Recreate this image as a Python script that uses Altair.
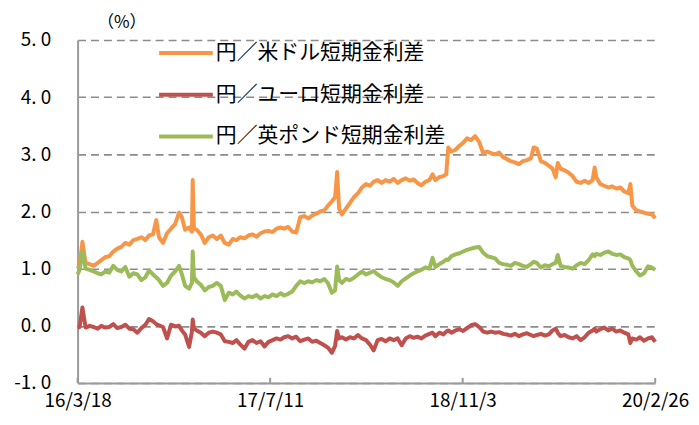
import altair as alt
import pandas as pd

# day offsets from 2016-03-18
days = [
    0, 5, 12, 20, 30, 40, 50, 59, 69, 79,
    89, 99, 109, 119, 129, 139, 149, 159, 169, 178,
    188, 196, 203, 213, 223, 233, 243, 253, 260, 268,
    278, 285, 287, 290, 297, 307, 317, 327, 337, 347,
    357, 367, 377, 387, 396, 406, 416, 426, 436, 446,
    456, 466, 476, 486, 496, 506, 515, 525, 535, 545,
    555, 565, 575, 585, 595, 605, 615, 624, 634, 642,
    647, 652, 659, 669, 679, 689, 699, 709, 719, 729,
    738, 748, 758, 768, 778, 788, 798, 808, 818, 828,
    838, 847, 857, 867, 877, 885, 892, 902, 912, 919,
    924, 932, 942, 952, 961, 971, 981, 991, 1001, 1011,
    1021, 1031, 1041, 1051, 1061, 1070, 1080, 1090, 1100, 1110,
    1120, 1130, 1137, 1145, 1155, 1165, 1175, 1184, 1192, 1197,
    1204, 1214, 1224, 1234, 1244, 1254, 1264, 1274, 1284, 1289,
    1293, 1303, 1313, 1323, 1333, 1343, 1353, 1363, 1373, 1378,
    1383, 1393, 1402, 1412, 1422, 1432, 1440,
]

usd = [
    1.00, 1.05, 1.47, 1.10, 1.08, 1.05, 1.10, 1.15, 1.20, 1.22,
    1.30, 1.35, 1.38, 1.45, 1.42, 1.50, 1.52, 1.55, 1.50, 1.58,
    1.60, 1.85, 1.55, 1.45, 1.62, 1.70, 1.78, 1.98, 1.90, 1.68,
    1.72, 1.65, 2.55, 1.70, 1.68, 1.60, 1.45, 1.55, 1.58, 1.52,
    1.58, 1.45, 1.42, 1.52, 1.50, 1.55, 1.53, 1.58, 1.60, 1.56,
    1.62, 1.65, 1.66, 1.64, 1.70, 1.72, 1.70, 1.73, 1.65, 1.63,
    1.90, 1.92, 1.88, 1.93, 1.96, 2.00, 2.02, 2.10, 2.18, 2.25,
    2.69, 2.05, 1.95, 2.05, 2.15, 2.25, 2.32, 2.42, 2.48, 2.45,
    2.52, 2.55, 2.50, 2.55, 2.52, 2.57, 2.50, 2.55, 2.58, 2.54,
    2.56, 2.50, 2.46, 2.52, 2.55, 2.65, 2.55, 2.60, 2.62, 2.65,
    3.12, 3.05, 3.08, 3.15, 3.20, 3.28, 3.25, 3.32, 3.22, 3.02,
    3.05, 3.02, 3.00, 3.03, 2.95, 2.92, 2.88, 2.86, 2.83, 2.88,
    2.90, 2.93, 3.12, 3.10, 2.88, 2.85, 2.80, 2.75, 2.60, 2.85,
    2.75, 2.72, 2.68, 2.62, 2.52, 2.50, 2.54, 2.50, 2.55, 2.77,
    2.60, 2.48, 2.45, 2.42, 2.44, 2.40, 2.42, 2.35, 2.32, 2.48,
    2.10, 2.02, 2.00, 1.98, 1.96, 1.95, 1.88,
]

eur = [
    -0.03, -0.02, 0.32, -0.03, 0.00, -0.02, -0.05, 0.00, -0.03, -0.02,
    0.03, -0.04, -0.02, 0.02, -0.05, -0.06, -0.12, -0.04, 0.02, 0.12,
    0.08, 0.03, 0.01, -0.02, -0.22, 0.02, -0.01, 0.00, -0.08, -0.15,
    -0.37, -0.10, 0.11, -0.05, -0.08, -0.12, -0.18, -0.12, -0.10, -0.12,
    -0.15, -0.27, -0.28, -0.30, -0.25, -0.33, -0.40, -0.28, -0.25, -0.30,
    -0.27, -0.36, -0.28, -0.25, -0.22, -0.24, -0.20, -0.18, -0.22, -0.19,
    -0.27, -0.24, -0.22, -0.28, -0.26, -0.30, -0.34, -0.38, -0.47, -0.35,
    -0.09, -0.22, -0.20, -0.24, -0.20, -0.22, -0.16, -0.22, -0.25, -0.33,
    -0.43, -0.25, -0.23, -0.27, -0.22, -0.25, -0.22, -0.34, -0.22, -0.18,
    -0.21, -0.19, -0.22, -0.17, -0.14, -0.12, -0.18, -0.12, -0.15, -0.10,
    -0.08, -0.12, -0.08, -0.06, -0.09, -0.04, 0.01, 0.03, -0.02, -0.10,
    -0.12, -0.10, -0.12, -0.11, -0.14, -0.15, -0.17, -0.14, -0.18, -0.15,
    -0.13, -0.16, -0.18, -0.16, -0.14, -0.17, -0.15, -0.08, -0.05, -0.12,
    -0.18, -0.16, -0.20, -0.22, -0.18, -0.25, -0.20, -0.12, -0.08, -0.05,
    -0.10, -0.06, -0.03, -0.08, -0.05, -0.10, -0.08, -0.12, -0.15, -0.30,
    -0.22, -0.24, -0.20, -0.26, -0.22, -0.20, -0.28,
]

gbp = [
    0.90, 0.98, 1.30, 1.00, 0.98, 0.95, 0.92, 0.90, 0.95, 0.93,
    1.05, 0.98, 0.95, 1.03, 0.86, 0.92, 0.90, 0.80, 0.85, 0.97,
    0.90, 0.85, 0.80, 0.70, 0.75, 0.88, 0.95, 1.05, 0.90, 0.70,
    0.65, 0.75, 1.30, 0.85, 0.78, 0.72, 0.62, 0.68, 0.70, 0.75,
    0.70, 0.45, 0.58, 0.55, 0.60, 0.53, 0.48, 0.52, 0.50, 0.54,
    0.48, 0.52, 0.50, 0.55, 0.52, 0.57, 0.53, 0.56, 0.60, 0.70,
    0.78, 0.75, 0.78, 0.76, 0.80, 0.78, 0.82, 0.75, 0.58, 0.62,
    1.04, 0.80, 0.75, 0.82, 0.80, 0.84, 0.90, 0.95, 0.90, 0.93,
    0.96, 0.90, 0.85, 0.82, 0.80, 0.76, 0.70, 0.78, 0.83, 0.88,
    0.92, 0.95, 0.98, 1.02, 1.00, 1.19, 1.03, 1.08, 1.12, 1.16,
    1.15, 1.22, 1.25, 1.27, 1.30, 1.33, 1.35, 1.37, 1.38, 1.28,
    1.22, 1.20, 1.18, 1.10, 1.08, 1.07, 1.05, 1.10, 1.08, 1.05,
    1.03, 1.08, 1.12, 1.10, 1.02, 1.06, 1.04, 1.08, 1.10, 1.24,
    1.05, 1.03, 1.02, 1.00, 1.06, 1.10, 1.08, 1.15, 1.25, 1.22,
    1.26, 1.24, 1.28, 1.30, 1.26, 1.24, 1.25, 1.20, 1.18, 1.15,
    1.05, 0.95, 0.88, 0.92, 1.04, 1.02, 0.98,
]

series_names = ["円／米ドル短期金利差", "円／ユーロ短期金利差", "円／英ポンド短期金利差"]
series_colors = ["#F79646", "#C0504D", "#9BBB59"]
tick_dates = ["2016-03-18", "2017-07-11", "2018-11-03", "2020-02-26"]
y_ticks = [-1, 0, 1, 2, 3, 4, 5]

FONT = "Noto Sans CJK JP"

start = pd.Timestamp("2016-03-18")
dates = (start + pd.to_timedelta(days, unit="D")).strftime("%Y-%m-%dT00:00:00")
frames = []
for name, vals in zip(series_names, [usd, eur, gbp]):
    frames.append(pd.DataFrame({"date": list(dates), "value": vals, "series": name}))
df = pd.concat(frames, ignore_index=True)

tick_df = pd.DataFrame({"date": [d + "T00:00:00" for d in tick_dates]})


def dt(s):
    y, m, d = (int(p) for p in s.split("-"))
    return alt.DateTime(year=y, month=m, date=d)


x_scale = alt.Scale(domain=[dt(tick_dates[0]), dt(tick_dates[-1])])

lines = alt.Chart(df).mark_line(strokeWidth=4, strokeJoin="round").encode(
    x=alt.X(
        "date:T",
        scale=x_scale,
        axis=alt.Axis(
            values=[dt(s) for s in tick_dates],
            format="%y/%-m/%-d",
            labelFlush=False,
            grid=False,
            ticks=False,
            domainColor="#9a9a9a",
            domainWidth=2,
            labelFontSize=19,
            labelFont=FONT,
            labelColor="#000000",
            labelPadding=9,
            title=None,
        ),
    ),
    y=alt.Y(
        "value:Q",
        scale=alt.Scale(domain=[-1, 5], nice=False, zero=False),
        axis=alt.Axis(
            values=y_ticks,
            labelExpr="replace(replace(format(datum.value, '.1f'), '−', '-'), '.', '. ')",
            grid=True,
            gridDash=[8, 5],
            gridColor="#8c8c8c",
            gridWidth=1.6,
            ticks=False,
            domainColor="#9a9a9a",
            domainWidth=2,
            labelFontSize=19,
            labelFont=FONT,
            labelColor="#000000",
            labelPadding=27,
            title="（%）",
            titleAngle=0,
            titleX=44,
            titleY=-18,
            titleAlign="center",
            titleBaseline="middle",
            titleFontSize=17,
            titleFont=FONT,
            titleFontWeight="normal",
            titleColor="#000000",
        ),
    ),
    color=alt.Color(
        "series:N",
        scale=alt.Scale(domain=series_names, range=series_colors),
        legend=alt.Legend(
            orient="none",
            legendX=80,
            legendY=-16,
            title=None,
            symbolType="stroke",
            symbolSize=2916,
            symbolStrokeWidth=4,
            labelFontSize=21,
            labelFont=FONT,
            labelColor="#000000",
            labelOffset=1,
            labelLimit=0,
            rowPadding=3,
            padding=0,
            direction="vertical",
        ),
    ),
)

ticks = alt.Chart(tick_df).mark_rule(color="#9a9a9a", strokeWidth=2).encode(
    x="date:T",
    y=alt.datum(-1.0),
    y2=alt.datum(-0.91),
)

chart = (
    alt.layer(lines, ticks)
    .properties(
        width=581,
        height=345,
        padding={"left": 70, "top": 31, "right": 36, "bottom": 34},
        autosize=alt.AutoSizeParams(type="none"),
        background="white",
    )
    .configure_view(stroke=None)
)

chart.save("out.html", embed_options={"renderer": "svg", "actions": False})
